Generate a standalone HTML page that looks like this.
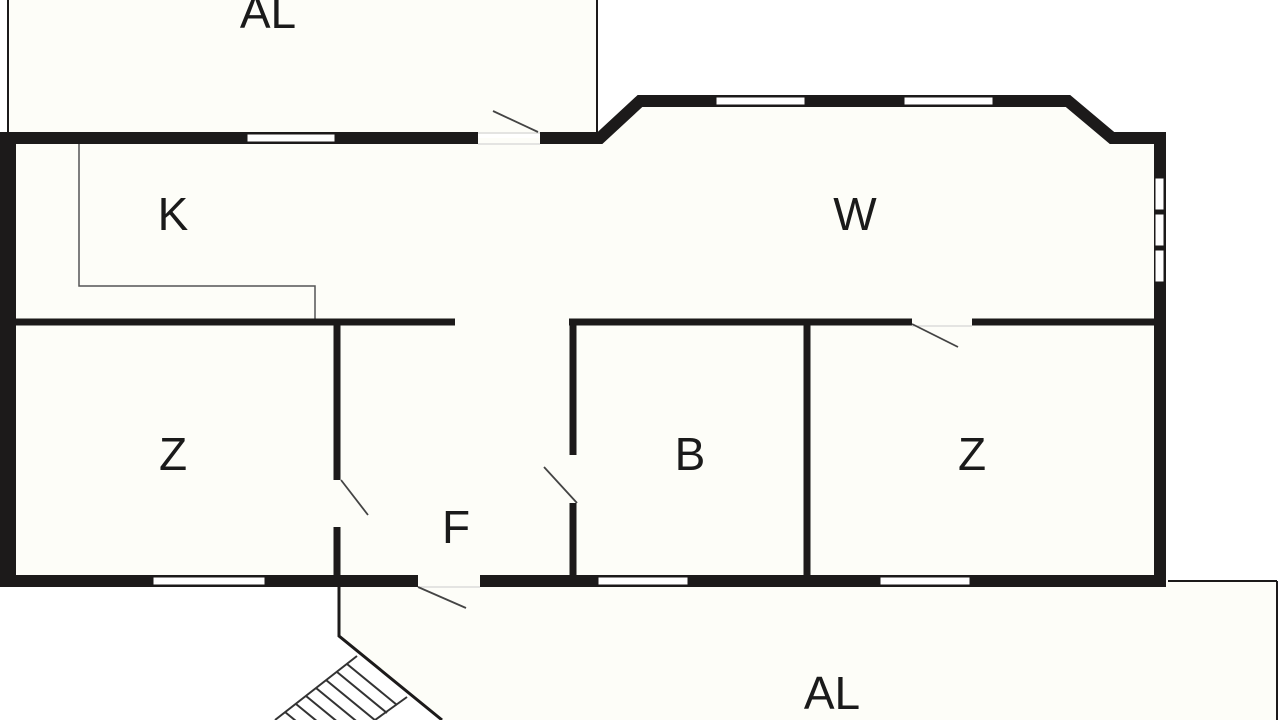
<!DOCTYPE html>
<html><head><meta charset="utf-8"><style>
html,body{margin:0;padding:0;background:#fff;}
svg{display:block}
text{font-family:"Liberation Sans",sans-serif;font-size:46px;fill:#1a1a1a;text-anchor:middle}
</style></head><body>
<svg width="1280" height="720" viewBox="0 0 1280 720" xmlns="http://www.w3.org/2000/svg">
<rect x="8" y="0" width="590" height="134" fill="#fdfdf8"/>
<polygon points="8,138 600,138 640,101 1068,101 1112,138 1160,138 1160,581 8,581" fill="#fdfdf8"/>
<polygon points="339,581 1168,581 1168,581 1277,581 1277,720 440,720 339,636" fill="#fdfdf8"/>
<g stroke="#1c1a1a" fill="none" stroke-width="2">
<line x1="8" y1="0" x2="8" y2="134"/>
<line x1="597" y1="0" x2="597" y2="132"/>
<line x1="1168" y1="581" x2="1277" y2="581"/>
<line x1="1277" y1="581" x2="1277" y2="720"/>
<polyline points="339,587 339,636 442,720" stroke-width="3"/>
<polyline points="79,144 79,286 315,286 315,322" stroke="#555" stroke-width="1.5"/>
</g>
<g stroke="#333" stroke-width="2" fill="none">
<line x1="357" y1="656" x2="275" y2="720"/>
<line x1="407" y1="697" x2="375" y2="720"/>
<line x1="347" y1="664" x2="397" y2="705"/>
<line x1="337" y1="672" x2="387" y2="713"/>
<line x1="326" y1="680" x2="376" y2="721"/>
<line x1="316" y1="688" x2="366" y2="729"/>
<line x1="306" y1="696" x2="356" y2="737"/>
<line x1="296" y1="704" x2="346" y2="745"/>
<line x1="285" y1="712" x2="335" y2="753"/>
</g>
<g stroke="#1c1a1a" fill="none" stroke-width="12" stroke-linejoin="miter">
<line x1="0" y1="138" x2="478" y2="138"/>
<polyline points="540,138 600,138 640,101 1068,101 1112,138 1160,138 1160,587"/>
<line x1="8" y1="132" x2="8" y2="587" stroke-width="16"/>
<line x1="0" y1="581" x2="418" y2="581"/>
<line x1="480" y1="581" x2="1166" y2="581"/>
</g>
<g stroke="#ccc" stroke-width="1">
<line x1="478" y1="133" x2="540" y2="133"/>
<line x1="478" y1="144" x2="540" y2="144"/>
<line x1="418" y1="587" x2="480" y2="587"/>
<line x1="912" y1="326" x2="972" y2="326"/>
</g>
<g fill="#fff" stroke="#1c1a1a" stroke-width="1">
<rect x="247" y="134" width="88" height="8"/>
<rect x="716" y="97" width="89" height="8"/>
<rect x="904" y="97" width="89" height="8"/>
<rect x="153" y="577" width="112" height="8"/>
<rect x="598" y="577" width="90" height="8"/>
<rect x="880" y="577" width="90" height="8"/>
<rect x="1155" y="178" width="9" height="32"/>
<rect x="1155" y="214" width="9" height="32"/>
<rect x="1155" y="250" width="9" height="32"/>
</g>
<g stroke="#1c1a1a" stroke-width="7" fill="none">
<line x1="14" y1="322" x2="455" y2="322"/>
<line x1="569" y1="322" x2="912" y2="322"/>
<line x1="972" y1="322" x2="1156" y2="322"/>
<line x1="337" y1="322" x2="337" y2="480"/>
<line x1="337" y1="527" x2="337" y2="580"/>
<line x1="573" y1="322" x2="573" y2="455"/>
<line x1="573" y1="503" x2="573" y2="580"/>
<line x1="807" y1="322" x2="807" y2="580"/>
</g>
<g stroke="#444" stroke-width="1.8">
<line x1="493" y1="111" x2="538" y2="132"/>
<line x1="912" y1="324" x2="958" y2="347"/>
<line x1="341" y1="480" x2="368" y2="515"/>
<line x1="577" y1="503" x2="544" y2="467"/>
<line x1="418" y1="587" x2="466" y2="608"/>
</g>
<text x="268" y="28">AL</text>
<text x="173" y="230">K</text>
<text x="855" y="230">W</text>
<text x="173" y="470">Z</text>
<text x="456" y="543">F</text>
<text x="690" y="470">B</text>
<text x="972" y="470">Z</text>
<text x="832" y="709">AL</text>
</svg>
</body></html>
